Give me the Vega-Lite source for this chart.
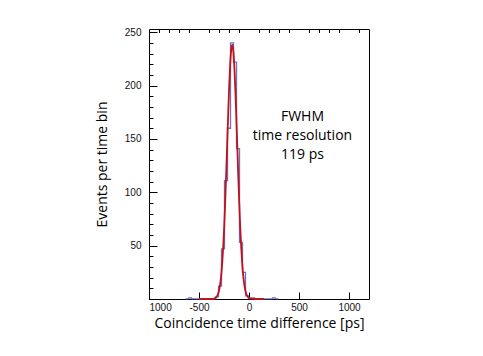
{
  "$schema": "https://vega.github.io/schema/vega-lite/v6.json",
  "width": 220,
  "height": 270,
  "autosize": {"type": "none"},
  "padding": {"left": 149, "top": 29, "right": 114, "bottom": 57},
  "background": "white",
  "config": {
    "view": {"stroke": "#000", "strokeWidth": 1},
    "axis": {
      "domain": false,
      "grid": false,
      "labelFont": "Liberation Sans",
      "labelFontSize": 10,
      "labelColor": "#111",
      "tickColor": "#000",
      "tickWidth": 1,
      "titleFont": "Open Sans",
      "titleFontSize": 14,
      "titleFontWeight": "normal",
      "titleColor": "#000"
    }
  },
  "layer": [
    {
      "data": {
        "values": [
          {"t": -635, "n": 0},
          {"t": -605, "n": 1},
          {"t": -575, "n": 0},
          {"t": -365, "n": 0},
          {"t": -335, "n": 2},
          {"t": -305, "n": 12},
          {"t": -275, "n": 47},
          {"t": -245, "n": 111},
          {"t": -215, "n": 160},
          {"t": -185, "n": 240},
          {"t": -155, "n": 222},
          {"t": -125, "n": 141},
          {"t": -95, "n": 53},
          {"t": -65, "n": 25},
          {"t": -35, "n": 3},
          {"t": -5, "n": 1},
          {"t": 25, "n": 1},
          {"t": 55, "n": 0},
          {"t": 235, "n": 1},
          {"t": 265, "n": 0},
          {"t": 295, "n": 0}
        ]
      },
      "mark": {"type": "line", "interpolate": "step-after", "color": "#3b44a8", "strokeWidth": 1.3, "opacity": 0.75},
      "encoding": {
        "x": {
          "field": "t", "type": "quantitative",
          "scale": {"domain": [-1000, 1200], "nice": false, "zero": false},
          "axis": {
            "values": [-1000, -500, 0, 500, 1000],
            "tickSize": -7,
            "labelPadding": 10,
            "labelExpr": "datum.value == -500 ? '-500' : toString(abs(datum.value))",
            "title": "Coincidence time difference [ps]",
            "titlePadding": 4
          }
        },
        "y": {
          "field": "n", "type": "quantitative",
          "scale": {"domain": [0, 253], "nice": false},
          "axis": {
            "values": [0, 50, 100, 150, 200, 250],
            "tickSize": -8,
            "labelPadding": 16,
            "labelExpr": "datum.value == 0 ? '' : datum.label",
            "title": "Events per time bin",
            "titlePadding": 15
          }
        }
      }
    },
    {
      "data": {
        "values": [
          {"t": -500, "g": 0},
          {"t": -450, "g": 0},
          {"t": -400, "g": 0.006},
          {"t": -368, "g": 0.09},
          {"t": -348, "g": 0.42},
          {"t": -338, "g": 0.82},
          {"t": -328, "g": 1.57},
          {"t": -318, "g": 2.89},
          {"t": -308, "g": 5.1},
          {"t": -298, "g": 8.66},
          {"t": -288, "g": 14.1},
          {"t": -278, "g": 22.2},
          {"t": -268, "g": 33.5},
          {"t": -258, "g": 48.6},
          {"t": -248, "g": 67.9},
          {"t": -238, "g": 91.1},
          {"t": -228, "g": 117.5},
          {"t": -218, "g": 145.8},
          {"t": -208, "g": 173.9},
          {"t": -198, "g": 199.5},
          {"t": -188, "g": 220.1},
          {"t": -178, "g": 233.4},
          {"t": -168, "g": 238},
          {"t": -158, "g": 233.4},
          {"t": -148, "g": 220.1},
          {"t": -138, "g": 199.5},
          {"t": -128, "g": 173.9},
          {"t": -118, "g": 145.8},
          {"t": -108, "g": 117.5},
          {"t": -98, "g": 91.1},
          {"t": -88, "g": 67.9},
          {"t": -78, "g": 48.6},
          {"t": -68, "g": 33.5},
          {"t": -58, "g": 22.2},
          {"t": -48, "g": 14.1},
          {"t": -38, "g": 8.66},
          {"t": -28, "g": 5.1},
          {"t": -18, "g": 2.89},
          {"t": -8, "g": 1.57},
          {"t": 2, "g": 0.82},
          {"t": 12, "g": 0.42},
          {"t": 32, "g": 0.09},
          {"t": 64, "g": 0.006},
          {"t": 100, "g": 0},
          {"t": 150, "g": 0}
        ]
      },
      "mark": {"type": "line", "interpolate": "monotone", "color": "#c0121c", "strokeWidth": 1.8},
      "encoding": {
        "x": {
          "field": "t", "type": "quantitative",
          "scale": {"domain": [-1000, 1200], "nice": false, "zero": false},
          "axis": {
            "values": [-900, -800, -700, -600, -400, -300, -200, -100, 100, 200, 300, 400, 600, 700, 800, 900, 1100],
            "tickSize": -3.5,
            "labels": false,
            "title": null
          }
        },
        "y": {
          "field": "g", "type": "quantitative",
          "scale": {"domain": [0, 253], "nice": false},
          "axis": {
            "orient": "left",
            "values": [10, 20, 30, 40, 60, 70, 80, 90, 110, 120, 130, 140, 160, 170, 180, 190, 210, 220, 230, 240],
            "tickSize": -4,
            "labels": false,
            "title": null
          }
        }
      }
    },
    {
      "data": {
        "values": [
          {"label": "FWHM", "tx": 535, "ty": 171},
          {"label": "time resolution", "tx": 535, "ty": 153},
          {"label": "119 ps", "tx": 535, "ty": 134.5}
        ]
      },
      "mark": {"type": "text", "font": "Open Sans", "fontSize": 14, "align": "center", "baseline": "middle", "color": "#000"},
      "encoding": {
        "x": {"field": "tx", "type": "quantitative", "axis": null},
        "y": {"field": "ty", "type": "quantitative", "axis": null},
        "text": {"field": "label"}
      }
    }
  ],
  "resolve": {"axis": {"x": "independent", "y": "independent"}}
}
